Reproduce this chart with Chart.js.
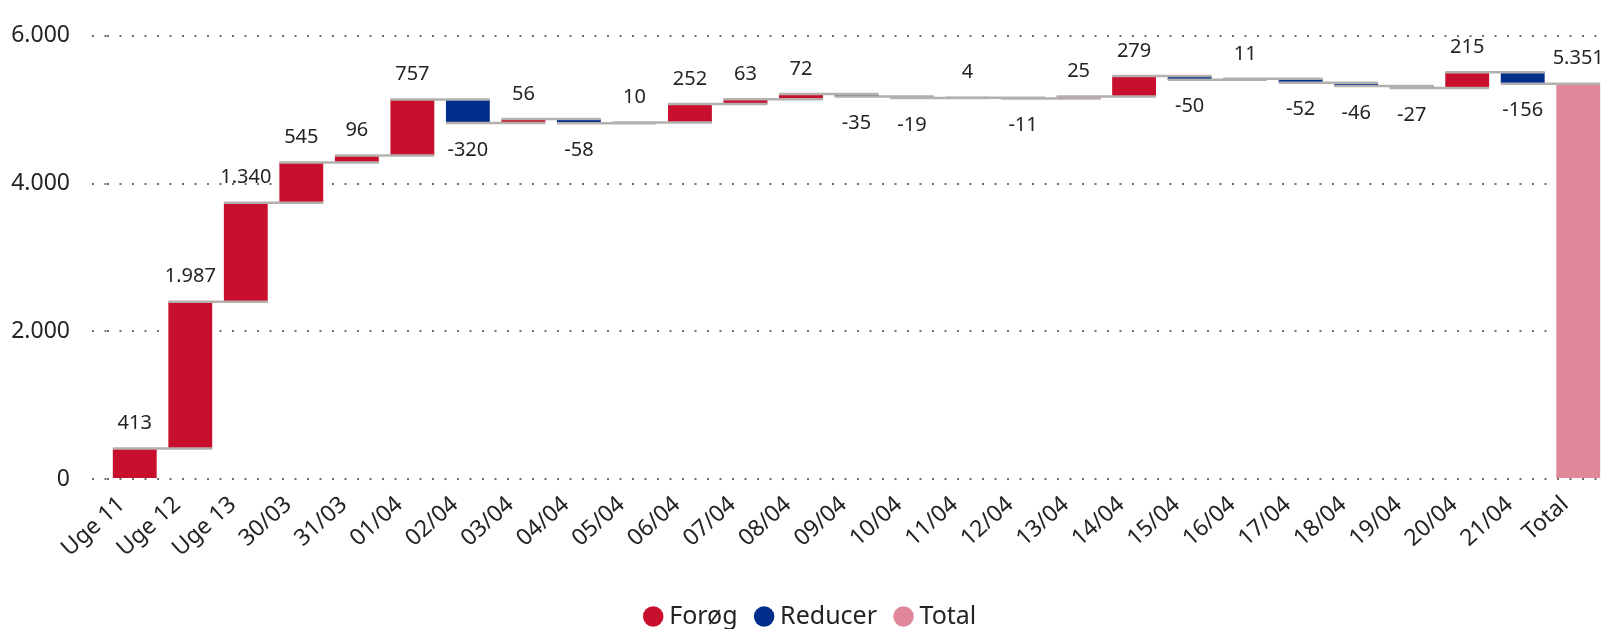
<!DOCTYPE html>
<html>
<head>
<meta charset="utf-8">
<script src="https://cdn.jsdelivr.net/npm/chart.js@4/dist/chart.umd.min.js"></script>
<style>
  html, body { margin: 0; padding: 0; background: #fff; overflow: hidden; }
  #wrap { width: 1606px; height: 629px; position: relative; }
</style>
</head>
<body>
<div id="wrap"><canvas id="graphCanvas"></canvas></div>
<script>
// categories and changes
var days = ['Uge 11', 'Uge 12', 'Uge 13', '30/03', '31/03', '01/04', '02/04', '03/04', '04/04',
            '05/04', '06/04', '07/04', '08/04', '09/04', '10/04', '11/04', '12/04', '13/04',
            '14/04', '15/04', '16/04', '17/04', '18/04', '19/04', '20/04', '21/04'];
var changes = [413, 1987, 1340, 545, 96, 757, -320, 56, -58, 10, 252, 63, 72, -35, -19, 4,
               -11, 25, 279, -50, 11, -52, -46, -27, 215, -156];
var totalLabel = 'Total';
var yTicks = [0, 2000, 4000, 6000];

var seriesNames = ['Forøg', 'Reducer', 'Total'];
var seriesColors = ['#C8102E', '#002E8A', '#E0889A'];

function fmt(v) {
    var s = String(Math.abs(Math.round(v))).replace(/\B(?=(\d{3})+(?!\d))/g, '.');
    return (v < 0 ? '-' : '') + s;
}

// build floating ranges
var labels = days.concat([totalLabel]);
var up = [], down = [], tot = [], ends = [], shown = [];
var run = 0;
for (var i = 0; i < changes.length; i++) {
    var start = run;
    run += changes[i];
    ends.push(run);
    shown.push(changes[i]);
    if (changes[i] >= 0) { up.push([start, run]); down.push(null); }
    else { up.push(null); down.push([start, run]); }
    tot.push(null);
}
up.push(null); down.push(null); tot.push([0, run]);
ends.push(run); shown.push(run);

var FONT = "'Noto Sans', 'Open Sans', sans-serif";

var connectors = {
    id: 'connectors',
    afterLayout: function (chart) {
        // legend row includes a trailing gap, nudge it back to centre
        chart.legend.left += 10;
        chart.legend.right += 10;
    },
    afterDatasetsDraw: function (chart) {
        var ctx = chart.ctx, y = chart.scales.y, x = chart.scales.x;
        var w = chart.getDatasetMeta(0).data[0].width;
        ctx.save();
        ctx.strokeStyle = '#B3B0AD';
        ctx.lineWidth = 2.5;
        for (var i = 0; i < labels.length - 1; i++) {
            var py = y.getPixelForValue(ends[i]);
            ctx.beginPath();
            ctx.moveTo(x.getPixelForValue(i) - w / 2, py);
            ctx.lineTo(x.getPixelForValue(i + 1) + w / 2, py);
            ctx.stroke();
        }
        // value labels
        ctx.fillStyle = '#252423';
        ctx.font = '20px ' + FONT;
        ctx.textAlign = 'center';
        ctx.textBaseline = 'middle';
        for (var j = 0; j < labels.length; j++) {
            var v = shown[j];
            var cx = x.getPixelForValue(j);
            var py2 = y.getPixelForValue(ends[j]);
            if (j === labels.length - 1 || v >= 0) {
                ctx.fillText(fmt(v), cx, py2 - 25);
            } else {
                ctx.fillText(fmt(v), cx, py2 + 27);
            }
        }
        ctx.restore();
    }
};

var chartdata = {
    labels: labels,
    datasets: [
        { label: seriesNames[0], data: up, backgroundColor: seriesColors[0] },
        { label: seriesNames[1], data: down, backgroundColor: seriesColors[1] },
        { label: seriesNames[2], data: tot, backgroundColor: seriesColors[2] }
    ]
};

new Chart(document.getElementById('graphCanvas'), {
    type: 'bar',
    data: chartdata,
    plugins: [connectors],
    options: {
        responsive: true,
        maintainAspectRatio: false,
        animation: false,
        layout: { padding: { top: 24, left: 0, right: 0, bottom: -10 } },
        datasets: { bar: { grouped: false, barPercentage: 0.79, categoryPercentage: 1.0, borderWidth: 0 } },
        plugins: {
            tooltip: { enabled: false },
            legend: {
                position: 'bottom',
                labels: {
                    usePointStyle: true,
                    pointStyle: 'circle',
                    boxWidth: 7,
                    boxHeight: 14.5,
                    padding: 23,
                    color: '#252423',
                    font: { family: FONT, size: 25 }
                }
            }
        },
        scales: {
            x: {
                offset: true,
                grid: { display: false },
                border: { display: false },
                ticks: {
                    autoSkip: false,
                    minRotation: 42,
                    maxRotation: 42,
                    padding: 4,
                    labelOffset: -13,
                    color: '#252423',
                    font: { family: FONT, size: 23 }
                },
                afterFit: function (scale) { scale.height = 102; }
            },
            y: {
                min: 0,
                max: 6000,
                afterBuildTicks: function (scale) {
                    scale.ticks = yTicks.map(function (v) { return { value: v }; });
                },
                border: { display: false, dash: [2, 10.5] },
                grid: {
                    color: '#6f6f6f',
                    lineWidth: 2,
                    tickBorderDash: [2, 10.5],
                    tickLength: 15
                },
                ticks: {
                    padding: 22,
                    color: '#252423',
                    font: { family: FONT, size: 23 },
                    callback: function (v) { return fmt(v); }
                },
                afterFit: function (scale) { scale.width = 107; }
            }
        }
    }
});
</script>
</body>
</html>
